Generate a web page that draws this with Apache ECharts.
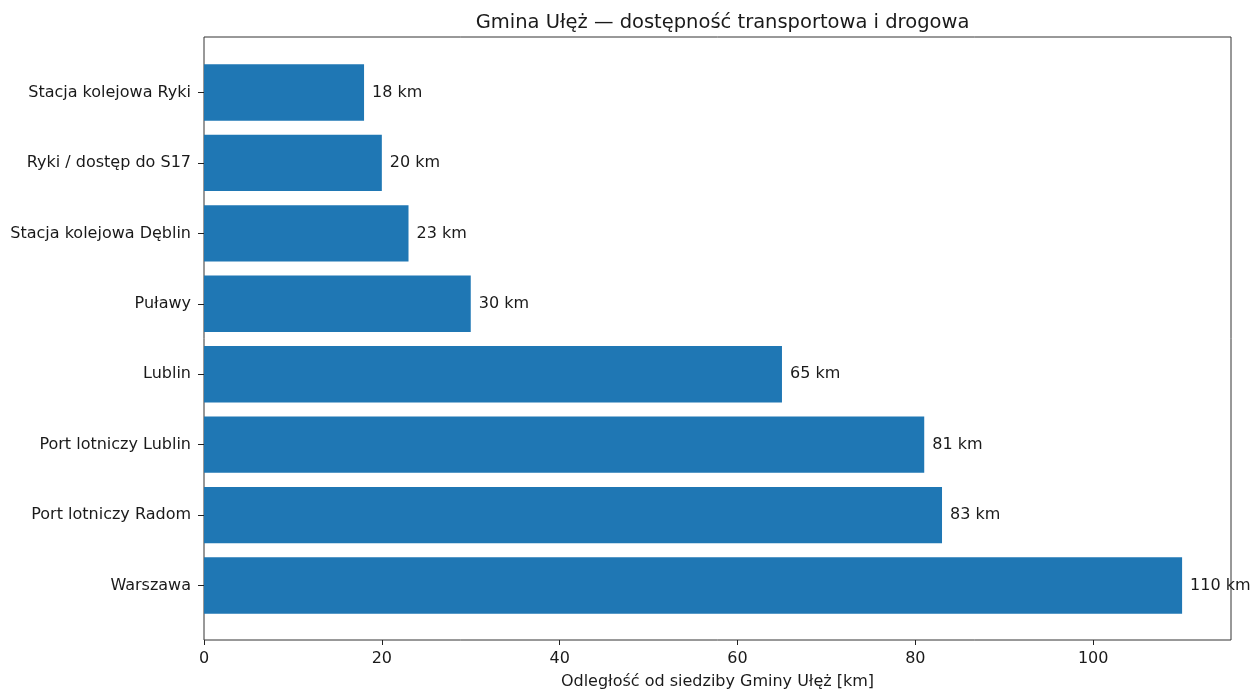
<!DOCTYPE html>
<html>
<head>
<meta charset="utf-8">
<script src="https://cdn.jsdelivr.net/npm/echarts@6/dist/echarts.min.js"></script>
<style>
html,body{margin:0;padding:0;background:#fff;}
#chart{width:1257px;height:690px;}
</style>
</head>
<body>
<div id="chart"></div>
<script>
const categories = ["Stacja kolejowa Ryki", "Ryki / dostęp do S17", "Stacja kolejowa Dęblin", "Puławy", "Lublin", "Port lotniczy Lublin", "Port lotniczy Radom", "Warszawa"];
const distances = [18, 20, 23, 30, 65, 81, 83, 110];
const xTicks = [0, 20, 40, 60, 80, 100];
const titleText = "Gmina Ułęż — dostępność transportowa i drogowa";
const xAxisTitle = "Odległość od siedziby Gminy Ułęż [km]";

const FONT = "DejaVu Sans";
const TXT = '#1a1a1a';
const chart = echarts.init(document.getElementById('chart'), null, {renderer: 'canvas'});
chart.setOption({
  animation: false,
  backgroundColor: '#fff',
  textStyle: {fontFamily: FONT},
  title: {
    text: titleText, left: 717.5, top: 8, textAlign: 'center',
    textStyle: {fontFamily: FONT, fontSize: 19.5, fontWeight: 'normal', color: TXT}
  },
  grid: [
    {left: 204, right: 26, top: 37, bottom: 50, show: true, borderColor: '#333', borderWidth: 1, backgroundColor: 'transparent', outerBoundsMode: 'none', containLabel: false},
    {left: 204, right: 26, top: 57.3, bottom: 69.3, outerBoundsMode: 'none', containLabel: false}
  ],
  xAxis: [
    {gridIndex: 0, type: 'value', min: 0, max: 1, show: false},
    {
      gridIndex: 1, type: 'value', min: 0, max: 115.5, position: 'bottom', offset: 19.3,
      axisLine: {show: false},
      splitLine: {show: false},
      axisTick: {show: true, length: 5, lineStyle: {color: '#222'}, customValues: xTicks},
      axisLabel: {customValues: xTicks, color: TXT, fontSize: 16, fontFamily: FONT, margin: 11},
      name: xAxisTitle, nameLocation: 'middle', nameGap: 34,
      nameTextStyle: {color: TXT, fontSize: 16, fontFamily: FONT}
    }
  ],
  yAxis: [
    {gridIndex: 0, type: 'value', min: 0, max: 1, show: false},
    {
      gridIndex: 1, type: 'category', data: categories, inverse: true,
      axisLine: {show: false},
      axisTick: {show: true, alignWithLabel: true, length: 6, lineStyle: {color: '#222'}},
      axisLabel: {color: TXT, fontSize: 16, fontFamily: FONT, margin: 13}
    }
  ],
  series: [{
    type: 'bar', xAxisIndex: 1, yAxisIndex: 1,
    data: distances, barWidth: '80%',
    itemStyle: {color: '#1f77b4'},
    label: {
      show: true, position: 'right', distance: 8,
      formatter: p => p.value + ' km',
      color: TXT, fontSize: 16, fontFamily: FONT
    }
  }]
});
</script>
</body>
</html>
